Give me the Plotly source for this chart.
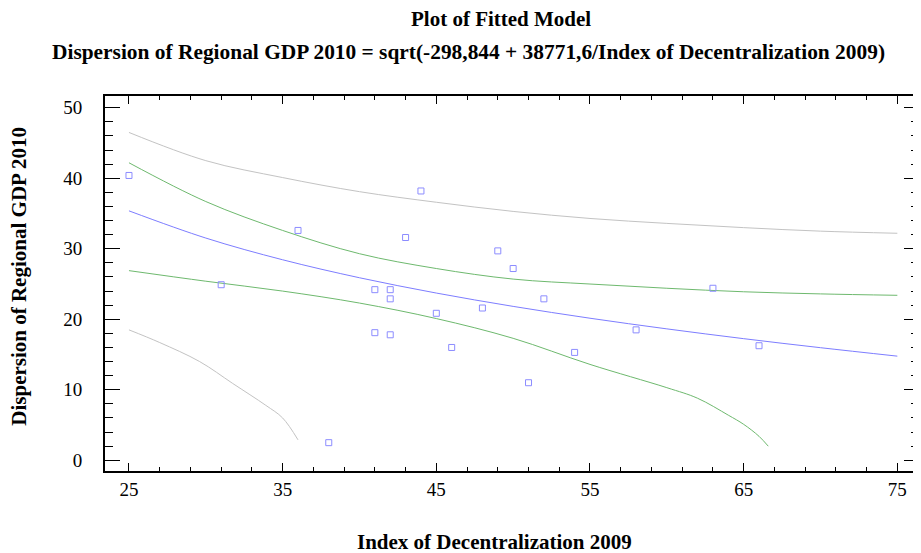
import plotly.graph_objects as go

# Observed data points
obs_x = [25, 31, 36, 38, 41, 41, 42, 42, 42, 43, 44, 45, 46, 48, 49, 50, 51, 52, 54, 58, 63, 66]
obs_y = [40.4, 24.9, 32.6, 2.5, 24.2, 18.1, 24.2, 22.9, 17.8, 31.6, 38.2, 20.85, 16.0, 21.6, 29.7, 27.2, 11.0, 22.9, 15.3, 18.5, 24.4, 16.25]

# Fitted model line
fit_x = [25, 30, 35, 40, 45, 50, 55, 60, 65, 70, 75]
fit_y = [35.38, 31.52, 28.44, 25.89, 23.72, 21.83, 20.15, 18.64, 17.25, 15.97, 14.77]

# Confidence limits
ucl_x = [25, 30, 35, 40, 45, 50, 55, 60, 65, 70, 75]
ucl_y = [42.2, 36.7, 32.6, 29.3, 27.2, 25.7, 25.0, 24.4, 23.9, 23.6, 23.4]
lcl_x = [25, 30, 35, 40, 45, 50, 55, 60, 62, 64, 65, 66, 66.6]
lcl_y = [26.9, 25.4, 24.0, 22.3, 20.1, 17.3, 13.6, 10.3, 8.8, 6.4, 5.1, 3.4, 2.0]

# Prediction limits
upl_x = [25, 30, 35, 40, 45, 50, 55, 60, 65, 70, 75]
upl_y = [46.5, 42.5, 40.1, 38.1, 36.6, 35.3, 34.3, 33.6, 33.0, 32.5, 32.2]
lpl_x = [25, 27, 29.6, 31.75, 33.9, 35, 36]
lpl_y = [18.5, 16.7, 14.0, 10.9, 7.8, 6.0, 2.9]

x_ticks = [25, 35, 45, 55, 65, 75]
y_ticks = [0, 10, 20, 30, 40, 50]

FONT = "Liberation Serif"
BLUE = "rgb(125,125,255)"
GREEN = "rgb(110,185,110)"
GRAY = "rgb(195,195,195)"

fig = go.Figure()
for xs, ys, col in [(upl_x, upl_y, GRAY), (lpl_x, lpl_y, GRAY),
                    (ucl_x, ucl_y, GREEN), (lcl_x, lcl_y, GREEN),
                    (fit_x, fit_y, BLUE)]:
    fig.add_trace(go.Scatter(x=xs, y=ys, mode="lines",
                             line=dict(color=col, width=1, shape="spline"),
                             hoverinfo="skip", showlegend=False))
fig.add_trace(go.Scatter(x=obs_x, y=obs_y, mode="markers",
                         marker=dict(symbol="square-open", size=6,
                                     color="rgb(140,140,255)",
                                     line=dict(width=1, color="rgb(140,140,255)")),
                         showlegend=False))

# The page body has an 8px margin, so the figure is sized/offset to compensate
fig.update_layout(
    width=913, height=545,
    margin=dict(l=97, r=0, t=88, b=82),
    paper_bgcolor="white", plot_bgcolor="white",
    font=dict(family=FONT, size=19, color="black"),
    xaxis=dict(range=[23.44, 76.41], tickvals=x_ticks, ticks="inside", ticklen=8,
               tickwidth=1, tickcolor="black", showline=True, linecolor="black",
               linewidth=2, mirror="ticks", showgrid=False, zeroline=False,
               ticklabelstandoff=0,
               minor=dict(dtick=2, tick0=25, ticks="inside", ticklen=4,
                          tickcolor="black", showgrid=False)),
    yaxis=dict(range=[-1.52, 51.67], tickvals=y_ticks, ticks="inside", ticklen=15,
               tickwidth=1, tickcolor="black", showline=True, linecolor="black",
               linewidth=2, mirror="ticks", showgrid=False, zeroline=False,
               ticklabelstandoff=17,
               minor=dict(dtick=2, tick0=0, ticks="inside", ticklen=8,
                          tickcolor="black", showgrid=False)),
)

annots = [
    dict(text="<b>Plot of Fitted Model</b>", x=0.486, y=1.205, size=21),
    dict(text="<b>Dispersion of Regional GDP 2010 = sqrt(-298,844 + 38771,6/Index of Decentralization 2009)</b>",
         x=0.4467, y=1.1173, size=21.4),
    dict(text="<b>Index of Decentralization 2009</b>", x=0.4786, y=-0.189, size=21),
]
for a in annots:
    fig.add_annotation(text=a["text"], x=a["x"], y=a["y"], xref="paper", yref="paper",
                       xanchor="center", yanchor="middle", showarrow=False,
                       font=dict(family=FONT, size=a["size"], color="black"))
fig.add_annotation(text="<b>Dispersion of Regional GDP 2010</b>", x=-0.106, y=0.52,
                   xref="paper", yref="paper", xanchor="center", yanchor="middle",
                   textangle=-90, showarrow=False,
                   font=dict(family=FONT, size=21, color="black"))

fig.write_html("out.html")
